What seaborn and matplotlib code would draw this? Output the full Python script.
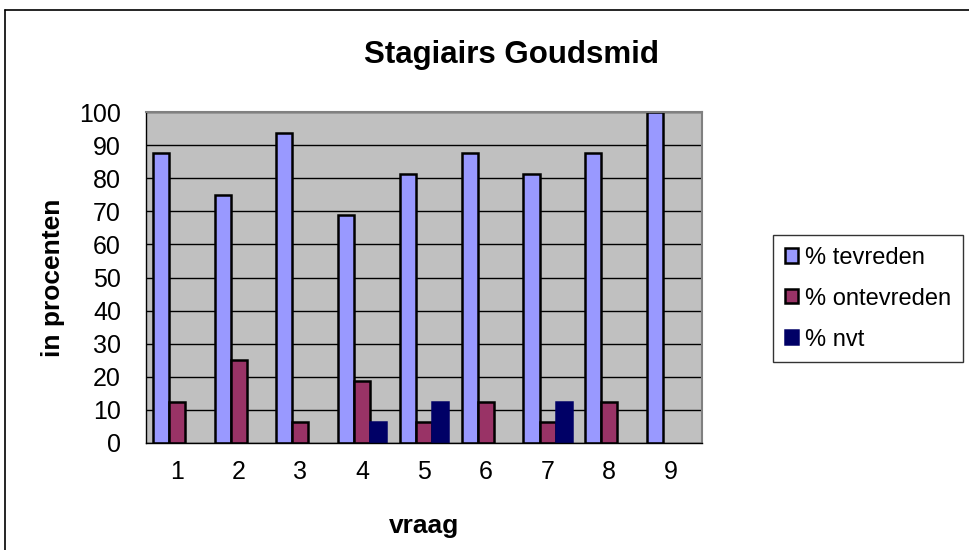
import pandas as pd
import matplotlib.pyplot as plt
import seaborn as sns
from matplotlib.lines import Line2D

# data
vragen = ["1", "2", "3", "4", "5", "6", "7", "8", "9"]
tevreden = [87.5, 75, 93.75, 68.75, 81.25, 87.5, 81.25, 87.5, 100]
ontevreden = [12.5, 25, 6.25, 18.75, 6.25, 12.5, 6.25, 12.5, 0]
nvt = [0, 0, 0, 6.25, 12.5, 0, 12.5, 0, 0]
series = ["% tevreden", "% ontevreden", "% nvt"]
colors = ["#9999FF", "#993366", "#000066"]
edges = ["black", "black", "#000066"]

df = pd.DataFrame({
    "vraag": vragen * 3,
    "waarde": tevreden + ontevreden + nvt,
    "serie": [s for s in series for _ in vragen],
})

sns.set_style("white")
plt.rcParams["font.family"] = ["Liberation Sans", "DejaVu Sans"]
plt.rcParams["text.color"] = "black"
plt.rcParams["xtick.color"] = "black"
plt.rcParams["ytick.color"] = "black"
plt.rcParams["axes.labelcolor"] = "black"

fig = plt.figure(figsize=(9.69, 5.5), dpi=100)
ax = fig.add_axes([146 / 969, 1 - 443 / 550, (702 - 146) / 969, (443 - 112) / 550])

sns.barplot(data=df, x="vraag", y="waarde", hue="serie", hue_order=series,
            palette=colors, width=0.78, gap=0, ax=ax, legend=False,
            saturation=1, errorbar=None)

for cont, ec in zip(ax.containers, edges):
    for bar in cont:
        bar.set_edgecolor(ec)
        bar.set_linewidth(1.8 if bar.get_height() > 0 else 0)

ax.set_facecolor("#C0C0C0")
ax.set_ylim(0, 100)
ax.set_xlim(-0.5, 8.5)
ax.set_yticks(range(0, 101, 10))
ax.yaxis.grid(True, color="black", linewidth=1)
ax.set_axisbelow(True)
for side in ["top", "right"]:
    ax.spines[side].set_color("#808080")
    ax.spines[side].set_linewidth(1.5)
for side in ["left", "bottom"]:
    ax.spines[side].set_color("black")
    ax.spines[side].set_linewidth(1)

# x ticks between categories, labels centred
ax.set_xticks([i - 0.5 for i in range(10)], minor=False)
ax.set_xticklabels([])
ax.set_xticks(range(9), minor=True)
ax.set_xticklabels(vragen, minor=True)
ax.tick_params(axis="x", which="major", direction="out", length=7, width=1, color="black")
ax.tick_params(axis="x", which="minor", length=0, labelsize=18, pad=12)
ax.tick_params(axis="y", direction="out", length=7, width=1, color="black", labelsize=18, pad=11)

ax.set_xlabel("vraag", fontsize=19, fontweight="bold", labelpad=22)
ax.set_ylabel("in procenten", fontsize=19, fontweight="bold", labelpad=10)
fig.text(0.528, 0.9, "Stagiairs Goudsmid", ha="center", va="center",
         fontsize=22.5, fontweight="bold")

# legend
handles = [plt.Rectangle((0, 0), 1, 1, facecolor=c, edgecolor=e, linewidth=1.8)
           for c, e in zip(colors, edges)]
leg = fig.legend(handles, series, loc="upper left", bbox_to_anchor=(773 / 969, 1 - 235 / 550),
                 fontsize=17, frameon=True, fancybox=False, edgecolor="black",
                 handlelength=0.55, handleheight=0.55, handletextpad=0.3,
                 labelspacing=0.8, borderpad=0.5, borderaxespad=0)
leg.get_frame().set_linewidth(1)

# outer chart border (left and top)
fig.add_artist(Line2D([5 / 969, 5 / 969], [0, 1 - 10 / 550], color="black", linewidth=1.2))
fig.add_artist(Line2D([5 / 969, 1], [1 - 10 / 550, 1 - 10 / 550], color="black", linewidth=1.2))

fig.savefig("out.png", dpi=100)
